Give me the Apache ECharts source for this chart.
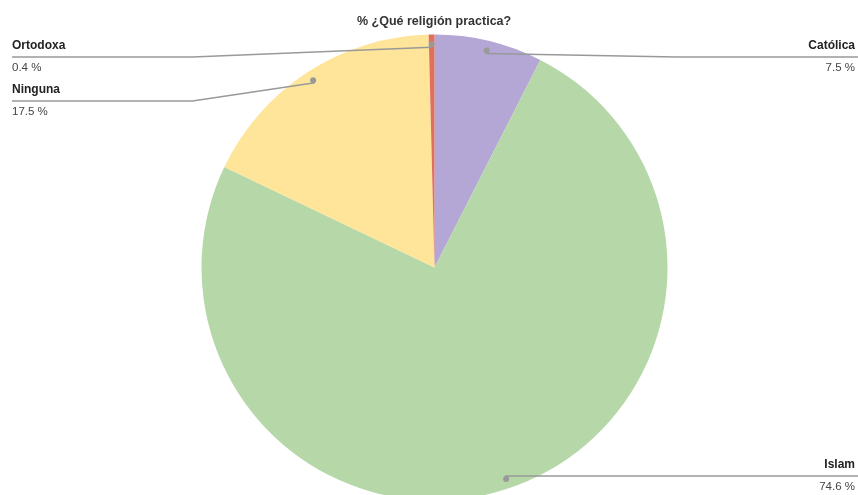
<!DOCTYPE html>
<html>
<head>
<meta charset="utf-8">
<script src="https://cdn.jsdelivr.net/npm/echarts@6/dist/echarts.min.js"></script>
<style>
html,body{margin:0;padding:0;background:#fff;}
#chart{width:858px;height:495px;}
</style>
</head>
<body>
<div id="chart"></div>
<script>
var title = '% ¿Qué religión practica?';
var categories = ['Católica', 'Islam', 'Ninguna', 'Ortodoxa'];
var values = [7.5, 74.6, 17.5, 0.4];
var colors = ['#b4a7d6', '#b6d7a8', '#ffe599', '#e06f5f'];

var W = 858, H = 495;
var CX = 434.5, CY = 267.5, R = 233;
var DOT_R = 0.945 * R;
var LABEL_HALF = 22;

var total = values.reduce(function (a, b) { return a + b; }, 0);
var layoutInfo = [];
(function () {
  var acc = 0;
  for (var i = 0; i < values.length; i++) {
    var mid = (acc + values[i] / 2) / total * Math.PI * 2;
    acc += values[i];
    var dx = Math.sin(mid), dy = -Math.cos(mid);
    layoutInfo.push({
      right: dx >= 0,
      dot: [CX + DOT_R * dx, CY + DOT_R * dy],
      lineY: CY + DOT_R * dy
    });
  }
  var minY = 35 + LABEL_HALF, maxY = H - 18;
  [true, false].forEach(function (side) {
    var items = layoutInfo.filter(function (d) { return d.right === side; })
      .sort(function (a, b) { return a.lineY - b.lineY; });
    var prev = -Infinity;
    items.forEach(function (d) {
      var y = Math.max(d.lineY, minY, prev + 2 * LABEL_HALF);
      d.lineY = Math.min(y, maxY);
      prev = d.lineY;
    });
  });
})();

var data = categories.map(function (c, i) {
  return { name: c, value: values[i], itemStyle: { color: colors[i] } };
});
var plainData = categories.map(function (c, i) { return { name: c, value: values[i] }; });

var chart = echarts.init(document.getElementById('chart'), null, { renderer: 'canvas' });
chart.setOption({
  animation: false,
  backgroundColor: '#fff',
  title: {
    text: title,
    left: 352, top: 10,
    textStyle: { fontFamily: 'Liberation Sans, Arial', fontSize: 12.5, fontWeight: 'bold', color: '#333' }
  },
  series: [
    {
      type: 'pie',
      center: [CX, CY],
      radius: R,
      startAngle: 90,
      clockwise: true,
      silent: true,
      z: 2,
      data: data,
      label: { show: false },
      labelLine: { show: false }
    },
    {
      type: 'pie',
      center: [CX, CY],
      radius: R,
      startAngle: 90,
      clockwise: true,
      silent: true,
      z: 4,
      data: plainData,
      itemStyle: { color: 'rgba(0,0,0,0)' },
      label: {
        show: true,
        formatter: function (p) { return '{n|' + p.name + '}\n{v|' + p.value.toFixed(1) + ' %}'; },
        rich: {
          n: { fontFamily: 'Liberation Sans, Arial', fontSize: 12, fontWeight: 'bold', color: '#222', lineHeight: 22 },
          v: { fontFamily: 'Liberation Sans, Arial', fontSize: 11.5, color: '#444', lineHeight: 22 }
        }
      },
      labelLine: { show: true, lineStyle: { color: '#999', width: 1.5 } },
      labelLayout: function (params) {
        var d = layoutInfo[params.dataIndex];
        var bendX = d.right ? CX + R + 9 : CX - R - 9;
        var endX = d.right ? W : 12;
        return {
          x: d.right ? W - 3 : 12,
          y: d.lineY,
          align: d.right ? 'right' : 'left',
          verticalAlign: 'middle',
          labelLinePoints: [d.dot, [bendX, d.lineY], [endX, d.lineY]]
        };
      }
    },
    {
      type: 'pie',
      center: [CX, CY],
      radius: [2 * DOT_R - R, R],
      startAngle: 90,
      clockwise: true,
      silent: true,
      z: 6,
      data: plainData,
      itemStyle: { color: 'rgba(0,0,0,0)' },
      label: {
        show: true,
        position: 'inside',
        formatter: '{d|}',
        lineHeight: 6,
        rich: { d: { width: 6, height: 6, lineHeight: 6, borderRadius: 3, backgroundColor: '#999' } }
      },
      labelLine: { show: false }
    }
  ]
});
</script>
</body>
</html>
